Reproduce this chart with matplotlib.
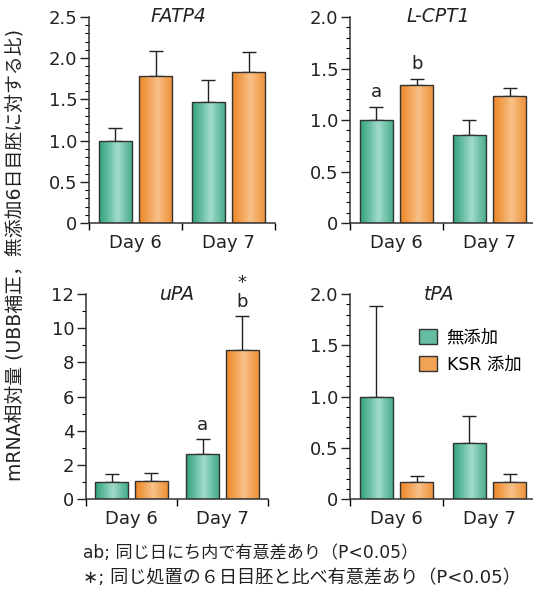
import numpy as np
import matplotlib
matplotlib.use('Agg')
import matplotlib.pyplot as plt
from matplotlib.patches import Patch

# data
days = ['Day 6', 'Day 7']
genes = ['FATP4', 'L-CPT1', 'uPA', 'tPA']
ctrl_mean = [[1.0, 1.47], [1.0, 0.85], [1.0, 2.65], [1.0, 0.55]]
ctrl_err = [[0.15, 0.27], [0.13, 0.15], [0.49, 0.85], [0.88, 0.26]]
ksr_mean = [[1.78, 1.83], [1.34, 1.23], [1.08, 8.7], [0.17, 0.17]]
ksr_err = [[0.31, 0.24], [0.06, 0.08], [0.43, 2.0], [0.055, 0.07]]
ymax = [2.5, 2.0, 12, 2.0]
ystep = [0.5, 0.5, 2, 0.5]
yminor = [0.1, 0.1, 1, 0.1]
ytick_labels = [['0', '0.5', '1.0', '1.5', '2.0', '2.5'],
                ['0', '0.5', '1.0', '1.5', '2.0'],
                ['0', '2', '4', '6', '8', '10', '12'],
                ['0', '0.5', '1.0', '1.5', '2.0']]
# significance marks: (panel, series, day, text)
marks = [(1, 0, 0, 'a'), (1, 1, 0, 'b'), (2, 0, 1, 'a'), (2, 1, 1, 'b')]
star_marks = [(2, 1, 1, '*')]
legend_labels = ['無添加', 'KSR 添加']
ylabel = 'mRNA相対量 (UBB補正，無添加6日目胚に対する比)'
notes = ['ab; 同じ日にち内で有意差あり（P<0.05）',
         '∗; 同じ処置の６日目胚と比べ有意差あり（P<0.05）']

fam = ['DejaVu Sans', 'Noto Sans CJK JP']
plt.rcParams['font.family'] = fam
plt.rcParams['font.size'] = 13
txt = '#222222'

green_dark = np.array([0.20, 0.64, 0.50])
green_light = np.array([0.64, 0.86, 0.80])
orange_dark = np.array([0.93, 0.53, 0.15])
orange_light = np.array([0.97, 0.76, 0.54])


def gradient(dark, light, n=64):
    t = np.linspace(0, 1, n)
    w = np.clip(1 - np.abs(t - 0.55) / 0.55, 0, 1) ** 1.1
    return (dark[None, :] + (light - dark)[None, :] * w[:, None])[None, :, :]


grad = [gradient(green_dark, green_light), gradient(orange_dark, orange_light)]

fig = plt.figure(figsize=(5.33, 5.93), dpi=100)
W, H = 533, 593
# axes boxes in pixels: x0, x_end, y_top, y_zero
boxes = [(89, 275, 17, 223), (350, 536, 17, 223),
         (86, 268, 294, 499), (350, 536, 294, 499)]
title_x = [0.48, 0.473, 0.5, 0.48]

width = 0.36
offs = [-0.2175, 0.2175]
x = np.arange(len(days))

for i, (x0, x1, yt, yz) in enumerate(boxes):
    ax = fig.add_axes([x0 / W, 1 - yz / H, (x1 - x0) / W, (yz - yt) / H])
    ax.patch.set_alpha(0)
    series = [(ctrl_mean[i], ctrl_err[i]), (ksr_mean[i], ksr_err[i])]
    for s, (m, e) in enumerate(series):
        bars = ax.bar(x + offs[s], m, width, color='none', edgecolor='#333333',
                      linewidth=1.0, zorder=3)
        for b in bars:
            im = ax.imshow(grad[s], extent=(b.get_x(), b.get_x() + b.get_width(),
                                            0, b.get_height()),
                           aspect='auto', zorder=2, interpolation='bicubic')
            im.set_clip_path(b)
        ax.errorbar(x + offs[s], m, yerr=[np.zeros(len(e)), e], fmt='none',
                    ecolor='#222222', elinewidth=1.0, capsize=4.7, capthick=1.0,
                    zorder=1)
    ax.set_xlim(-0.5, 1.5)
    ax.set_ylim(0, ymax[i])
    ax.set_yticks(np.arange(0, ymax[i] + 1e-9, ystep[i]))
    ax.set_yticklabels(ytick_labels[i])
    ax.set_yticks(np.arange(0, ymax[i] + 1e-9, yminor[i]), minor=True)
    ax.set_xticks([-0.5, 0.5, 1.5])
    ax.set_xticklabels([])
    ax.set_xticks(x, days, minor=True)
    ax.tick_params(axis='x', which='minor', length=0, pad=8, colors=txt,
                   labelsize=13)
    ax.tick_params(axis='x', which='major', length=5, width=1.0, direction='out')
    ax.tick_params(axis='y', which='major', length=6.5, width=1.0, colors=txt,
                   labelsize=13, pad=2)
    ax.tick_params(axis='y', which='minor', length=3, width=0.8)
    for sp in ['top', 'right']:
        ax.spines[sp].set_visible(False)
    for sp in ['left', 'bottom']:
        ax.spines[sp].set_linewidth(1.1)
        ax.spines[sp].set_color('#333333')
    ax.text(title_x[i], 1.0, genes[i], transform=ax.transAxes, ha='center',
            va='center', style='italic', fontsize=13.5, color=txt)
    # significance letters
    for (p, s, d, t) in marks:
        if p != i:
            continue
        m, e = series[s]
        top = m[d] + e[d]
        ax.annotate(t, (x[d] + offs[s], top), xytext=(0, 10.5),
                    textcoords='offset points', ha='center', va='center',
                    fontsize=13, color=txt, annotation_clip=False)
    for (p, s, d, t) in star_marks:
        if p != i:
            continue
        m, e = series[s]
        top = m[d] + e[d]
        ax.annotate(t, (x[d] + offs[s], top), xytext=(0, 24),
                    textcoords='offset points', ha='center', va='center',
                    fontsize=13, color=txt, annotation_clip=False)
    if i == 3:
        handles = [Patch(facecolor=green_dark * 0.55 + green_light * 0.45,
                         edgecolor='#333333', linewidth=1.0),
                   Patch(facecolor=orange_dark * 0.55 + orange_light * 0.45,
                         edgecolor='#333333', linewidth=1.0)]
        ax.legend(handles, legend_labels, loc='upper left',
                  bbox_to_anchor=(0.37, 0.83), frameon=False, fontsize=12.5,
                  handlelength=1.05, handleheight=0.95, handletextpad=0.55,
                  labelspacing=0.5, borderaxespad=0, borderpad=0)

fig.text(15 / W, 1 - 255 / H, ylabel, rotation=90, ha='center', va='center',
         fontsize=13.6, color=txt)
fig.text(83 / W, 1 - 553 / H, notes[0], ha='left', va='center', fontsize=12.3,
         color=txt)
fig.text(83 / W, 1 - 578 / H, notes[1], ha='left', va='center', fontsize=13.1,
         color=txt)

fig.savefig('out.png', dpi=100)
